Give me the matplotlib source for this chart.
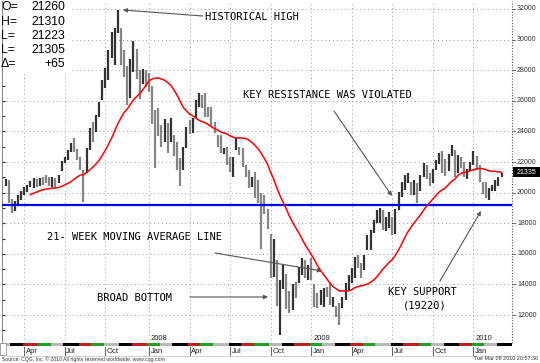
import numpy as np
import pandas as pd
import matplotlib
matplotlib.use('Agg')
import matplotlib.pyplot as plt
from matplotlib.patches import Rectangle
import matplotlib.transforms as mtransforms

# ---------------- data (weekly bars) ----------------
first_week = '2007-02-19'
highs = [20900, 20800, 19600, 19450, 19850, 20100, 20350, 20500, 20750, 20950,
         20900, 20950, 21050, 21150, 21000, 21000, 20950, 21150, 22050, 22300,
         22800, 23250, 23550, 22850, 22300, 21500, 22900, 24200, 24600, 25050,
         25900, 27350, 28150, 29300, 30500, 30750, 31958, 30750, 29300, 28300,
         28700, 29900, 29400, 28000, 28100, 28000, 27800, 27000, 25400, 25500,
         24400, 24800, 24550, 24900, 23750, 23300, 22250, 23000, 24300, 24750,
         24900, 26050, 26500, 26400, 26500, 25600, 25600, 24600, 23750, 23750,
         22900, 23000, 22300, 22300, 23550, 23000, 22900, 21800, 21500, 21000,
         21350, 20800, 19950, 19850, 18950, 17300, 17000, 15600, 14300, 15300,
         14700, 13600, 14000, 14150, 15150, 15750, 15600, 15300, 15700, 14000,
         13450, 13650, 13750, 13850, 14150, 13200, 12600, 12800, 13150, 14100,
         14600, 15100, 15800, 15900, 15400, 15900, 17200, 17550, 18200, 18850,
         19000, 18850, 18400, 18700, 18400, 18900, 20050, 20700, 21150, 21300,
         20700, 20800, 20600, 21150, 21950, 21800, 21300, 21550, 22100, 22620,
         22700, 22200, 22500, 23100, 22800, 22450, 22300, 22000, 21550, 22000,
         22750, 22400, 21800, 20700, 20700, 20300, 20500, 20800, 21000, 21310]
lows = [20450, 19350, 18660, 18800, 19100, 19500, 19850, 20050, 20350, 20300,
        20350, 20400, 20500, 20600, 20450, 20350, 20300, 20650, 21400, 21950,
        22150, 22650, 22650, 22150, 21500, 19390, 21300, 22800, 23300, 23950,
        24950, 26050, 26850, 27350, 28800, 28350, 30400, 28350, 27550, 25700,
        26200, 27900, 27400, 26100, 27100, 26900, 26600, 24500, 21600, 23700,
        22950, 23300, 22600, 23300, 22400, 21500, 20400, 21500, 22900, 23800,
        23900, 24900, 25600, 25500, 24950, 24950, 24300, 23900, 23000, 22600,
        22550, 21800, 21350, 21000, 22800, 22450, 21700, 21000, 20300, 20350,
        19650, 19300, 16283, 18600, 17600, 14400, 14500, 12600, 10676, 13700,
        12400, 12100, 12300, 13100, 14100, 14600, 14400, 14300, 14300, 12550,
        12450, 12650, 12550, 13150, 12650, 12500, 11900, 11345, 12450, 12950,
        13650, 14100, 14400, 15100, 14400, 14950, 16250, 16250, 17360, 18000,
        18000, 17550, 17500, 17700, 17200, 17300, 18850, 19700, 20150, 20600,
        19850, 19850, 19350, 20100, 21000, 20900, 20400, 20650, 21450, 21850,
        21250, 21100, 21400, 22400, 21000, 21300, 21600, 21000, 20900, 21400,
        21800, 21500, 20700, 19900, 19650, 19500, 20100, 20100, 20400, 21050]
closes = [20700, 19600, 19100, 19300, 19700, 19800, 20250, 20400, 20500, 20550,
          20500, 20850, 20800, 20700, 20600, 20900, 20700, 21100, 21800, 22150,
          22700, 23100, 22900, 22300, 21700, 20400, 22800, 23950, 23900, 24900,
          25600, 27150, 28000, 28800, 29300, 30400, 30700, 28800, 28500, 26500,
          28600, 28800, 27600, 27000, 27800, 27500, 26900, 25200, 25100, 24100,
          23500, 24000, 23800, 24300, 22500, 22000, 21800, 22500, 24200, 24000,
          24200, 25500, 25900, 25600, 25500, 25200, 24500, 24400, 23100, 22700,
          22700, 22000, 21400, 22100, 23000, 22700, 21900, 21200, 20400, 20900,
          19900, 19350, 19300, 18700, 17700, 14800, 15200, 12620, 13970, 14250,
          13550, 12650, 13900, 13850, 15050, 15100, 14500, 15050, 14400, 13250,
          12600, 13280, 13650, 13550, 12700, 12800, 12100, 12000, 12900, 13900,
          14500, 14950, 15600, 15250, 15200, 15700, 16600, 16900, 18150, 18600,
          18900, 17900, 18000, 18200, 17250, 18800, 19900, 20400, 20800, 20900,
          20200, 20450, 20300, 21070, 21620, 21020, 20380, 21500, 21930, 22590,
          21750, 21480, 22400, 22640, 21140, 22160, 21900, 21100, 21500, 21870,
          22300, 21650, 20730, 20120, 19670, 20000, 20160, 20600, 20790, 21305]
# weekly closes loaded before the visible window (seed the 21-week average)
closes_before_view = [18960, 18750, 18950, 19300, 19960, 20010,
                      20020, 20600, 20520, 20100, 20300, 20500]
ma_window = 21
support_level = 19220
ohlc_labels = ['O=', 'H=', 'L=', 'L=', '\u0394=']
ohlc_values = ['21260', '21310', '21223', '21305', '+65']
y_ticks = [12000, 14000, 16000, 18000, 20000, 22000, 24000, 26000, 28000, 30000, 32000]
last_price_label = '21335'
last_price = 21335
quarter_months = [1, 4, 7, 10]
month_names = {1: 'Jan', 4: 'Apr', 7: 'Jul', 10: 'Oct'}

# ---------------- layout ----------------
W, H = 540, 363
fig = plt.figure(figsize=(W / 100, H / 100), dpi=100)
fig.patch.set_facecolor('white')
L_PX, R_PX, T_PX, B_PX = 2, 512, 1, 343
ax = fig.add_axes([L_PX / W, 1 - B_PX / H, (R_PX - L_PX) / W, (B_PX - T_PX) / H])

n = len(highs)
dates = pd.date_range(first_week, periods=n, freq='W-MON')
idx = np.arange(n)

BAR0, STEP = 5.5, 3.12
ax.set_xlim((L_PX - BAR0) / STEP, (R_PX - BAR0) / STEP)
PPU = 1000 / 15.3  # price units per pixel
ax.set_ylim(32000 - (B_PX - 9) * PPU, 32000 + (9 - T_PX) * PPU)

for s in ['top', 'right', 'bottom']:
    ax.spines[s].set_visible(False)
ax.spines['left'].set_color('#707070')
ax.spines['left'].set_linewidth(0.6)
ax.set_xticks([])
ax.set_yticks(np.arange(11000, 33000, 1000))
ax.tick_params(axis='y', direction='in', length=2.5, width=0.8, color='#303030',
               labelleft=False, left=True)

# grid
grid_kw = dict(color='#9a9a9a', lw=0.7, linestyle=(0, (1, 3)), zorder=0)
for v in y_ticks:
    ax.axhline(v, **grid_kw)
q_idx = [i for i in range(1, n)
         if dates[i].month != dates[i - 1].month and dates[i].month in quarter_months]
for i in q_idx:
    ax.axvline(i, **grid_kw)

# price bars
prev = [closes_before_view[-1]] + closes[:-1]
cols = ['#333333' if c >= p else '#858585' for c, p in zip(closes, prev)]
ax.vlines(idx, lows, highs, colors=cols, lw=1.6, zorder=3)

# support line
ax.axhline(support_level, color='#0000ff', lw=1.6, zorder=4)

# 21-week moving average
allc = pd.Series(closes_before_view + closes, dtype=float)
ma = allc.rolling(ma_window).mean().to_numpy()[len(closes_before_view):]
ok = ~np.isnan(ma)
ax.plot(idx[ok], ma[ok], color='#ff0000', lw=1.1, zorder=5)

# right axis
ax.axvline(ax.get_xlim()[1], color='#505050', lw=0.8, linestyle=(0, (1, 1.5)), clip_on=False)
tr_right = mtransforms.blended_transform_factory(ax.transAxes, ax.transData)
for v in y_ticks:
    ax.plot([1.0, 1.006], [v, v], color='#505050', lw=0.6, transform=tr_right, clip_on=False)
    ax.text(1.0098, v, f'{v}', transform=tr_right, fontsize=5, family='Liberation Sans',
            color='#333333', va='center', ha='left')
# last price box
ax.add_patch(Rectangle((1.002, last_price - 5.2 * PPU), 0.056, 10.4 * PPU, transform=tr_right,
                       facecolor='black', edgecolor='none', clip_on=False, zorder=6))
ax.text(1.0098, last_price, last_price_label, transform=tr_right, fontsize=5,
        family='Liberation Sans', color='white', va='center', ha='left', zorder=7)

# bottom month strip
tr_bot = mtransforms.blended_transform_factory(ax.transData, ax.transAxes)
strip_cols = ['#c02020', '#20a020', '#b8b8b8', '#000000']
mkeys = [d.year * 12 + d.month for d in dates]
start = 0
for i in range(1, n + 1):
    if i == n or mkeys[i] != mkeys[start]:
        x0 = start - 0.5
        x1 = (i - 0.5) if i < n else ax.get_xlim()[1]
        ax.add_patch(Rectangle((x0, -3.2 / 342), x1 - x0, 3.2 / 342, transform=tr_bot,
                               facecolor=strip_cols[mkeys[start] % 4], edgecolor='none',
                               clip_on=False))
        start = i

# quarter labels, tick marks and year labels
for i in q_idx:
    ax.plot([i, i], [-3.5 / 342, -12 / 342], color='#606060', lw=0.7, transform=tr_bot,
            clip_on=False)
    ax.text(i + 0.5, -8.5 / 342, month_names[dates[i].month], transform=tr_bot, fontsize=5.5,
            family='Liberation Sans', color='#222222', va='center', ha='left')
    if dates[i].month == 1:
        ax.text(i + 0.6, 5 / 342, str(dates[i].year), transform=tr_bot, fontsize=5.5,
                family='Liberation Sans', color='#222222', va='center', ha='left')
# light frame under labels
fig.add_artist(plt.Line2D([7 / W, R_PX / W], [1 - 356 / H, 1 - 356 / H], color='#c8c8c8', lw=0.6))
fig.add_artist(Rectangle((0, 1 - 355 / H), 6 / W, 12 / H, facecolor='white',
                         edgecolor='#909090', lw=0.6))

# footer
fig.text(2 / W, 1 - 359 / H, 'Source: CQG, Inc. \u00a9 2010 All rights reserved worldwide. www.cqg.com',
         fontsize=3.7, family='Liberation Sans', color='#333333', va='center', ha='left')
fig.text(538 / W, 1 - 359 / H, 'Tue Mar 09 2010 20:57:36', fontsize=3.9,
         family='Liberation Sans', color='#333333', va='center', ha='right')

# OHLC box (masks the grid behind it)
fig.add_artist(Rectangle((3 / W, 1 - 72 / H), 68 / W, 71 / H, facecolor='white',
                         edgecolor='none', zorder=2))
for k, (lab, val) in enumerate(zip(ohlc_labels, ohlc_values)):
    yy = 1 - (7.5 + 14.2 * k) / H
    fig.text(1 / W, yy, lab, fontsize=8.8, family='Liberation Sans', va='center', ha='left',
             zorder=3)
    fig.text(65 / W, yy, val, fontsize=8.8, family='Liberation Sans', va='center', ha='right',
             zorder=3)

# annotations
def fp(x, y):
    return (x / W, 1 - y / H)

txt_kw = dict(fontsize=7.5, family='DejaVu Sans Mono', color='black', va='center', ha='left')
notes = [('HISTORICAL HIGH', 205, 17, (203, 16), (123, 10)),
         ('KEY RESISTANCE WAS VIOLATED', 243, 95, (334, 111), (392, 196)),
         ('21- WEEK MOVING AVERAGE LINE', 47, 237, (215, 253), (322, 271)),
         ('BROAD BOTTOM', 97, 298, (190, 297), (268, 297)),
         ('KEY SUPPORT', 388, 292, (440, 281), (481, 211))]
for text, tx, ty, a0, a1 in notes:
    fig.text(*fp(tx, ty), text, **txt_kw)
    ax.annotate('', xy=fp(*a1), xytext=fp(*a0), xycoords='figure fraction',
                textcoords='figure fraction',
                arrowprops=dict(arrowstyle='-|>', color='#555555', lw=0.8,
                                mutation_scale=6, shrinkA=0, shrinkB=0))
fig.text(*fp(403, 305), '(19220)', **txt_kw)

fig.savefig('out.png', dpi=100, facecolor='white')
